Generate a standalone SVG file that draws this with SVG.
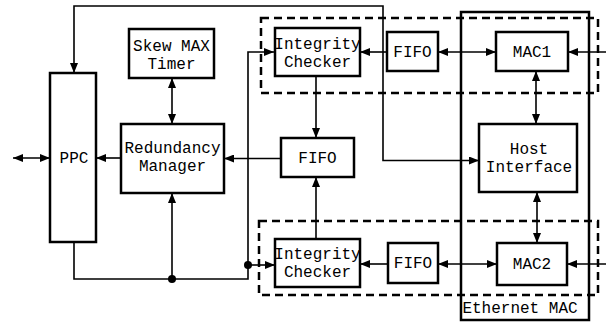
<svg xmlns="http://www.w3.org/2000/svg" width="606" height="323" viewBox="0 0 606 323">
<style>
.box{fill:#fff;stroke:#000;stroke-width:2.5}
.dash{fill:none;stroke:#000;stroke-width:2.5;stroke-dasharray:8 5}
.ln{fill:none;stroke:#000;stroke-width:1.6}
.t{font-family:"Liberation Mono",monospace;font-size:16px;fill:#000;text-anchor:middle}
</style>
<defs>
<marker id="a" viewBox="0 0 10 8" refX="10" refY="4" markerWidth="10" markerHeight="8" markerUnits="userSpaceOnUse" orient="auto-start-reverse">
<path d="M0,0 L10,4 L0,8 z" fill="#000"/>
</marker>
</defs>
<rect width="606" height="323" fill="#fff"/>
<g id="groups">
<rect id="ethernet-mac" x="461" y="12" width="128" height="308" fill="none" stroke="#000" stroke-width="2.5"/>
<rect x="261" y="18" width="337" height="75" class="dash"/>
<rect x="259" y="221" width="339" height="74" class="dash"/>
<text class="t" x="520" y="313">Ethernet MAC</text>
</g>
<g id="connectors">
<path class="ln" d="M74,73 V6 H383 V160.5 H479" marker-start="url(#a)" marker-end="url(#a)"/>
<path class="ln" d="M13,158 H50" marker-start="url(#a)" marker-end="url(#a)"/>
<path class="ln" d="M121,158 H96" marker-end="url(#a)"/>
<path class="ln" d="M281,158.5 H224" marker-end="url(#a)"/>
<path class="ln" d="M172,78 V124" marker-start="url(#a)" marker-end="url(#a)"/>
<path class="ln" d="M74,242 V279 H248 V52 H274" marker-end="url(#a)"/>
<path class="ln" d="M172,279 V193" marker-end="url(#a)"/>
<path class="ln" d="M248,265 H275" marker-end="url(#a)"/>
<circle cx="172" cy="279" r="4" fill="#000"/>
<circle cx="248" cy="265" r="4" fill="#000"/>
<path class="ln" d="M316,76 V138" marker-end="url(#a)"/>
<path class="ln" d="M316,239 V177" marker-end="url(#a)"/>
<path class="ln" d="M387,52 H360" marker-end="url(#a)"/>
<path class="ln" d="M438,52 H496" marker-start="url(#a)" marker-end="url(#a)"/>
<path class="ln" d="M606,52 H568" marker-end="url(#a)"/>
<path class="ln" d="M536,71 V124" marker-start="url(#a)" marker-end="url(#a)"/>
<path class="ln" d="M537,192 V243" marker-start="url(#a)" marker-end="url(#a)"/>
<path class="ln" d="M388,264 H360" marker-end="url(#a)"/>
<path class="ln" d="M438,264 H497" marker-start="url(#a)" marker-end="url(#a)"/>
<path class="ln" d="M606,264 H567" marker-end="url(#a)"/>
</g>
<g id="ppc">
<rect class="box" x="50" y="73" width="46" height="169"/>
<text class="t" x="74" y="163">PPC</text>
</g>
<g id="skew-max-timer">
<rect class="box" x="129" y="29" width="85" height="49"/>
<text class="t" x="171.5" y="51">Skew MAX</text>
<text class="t" x="171.5" y="69">Timer</text>
</g>
<g id="redundancy-manager">
<rect class="box" x="121" y="124" width="103" height="69"/>
<text class="t" x="172.5" y="153">Redundancy</text>
<text class="t" x="172.5" y="171">Manager</text>
</g>
<g id="fifo-mid">
<rect class="box" x="281" y="138" width="73" height="39"/>
<text class="t" x="317.5" y="163">FIFO</text>
</g>
<g id="integrity-checker-top">
<rect class="box" x="275" y="28" width="85" height="48"/>
<text class="t" x="317.5" y="49">Integrity</text>
<text class="t" x="317.5" y="67">Checker</text>
</g>
<g id="fifo-top">
<rect class="box" x="387" y="32" width="51" height="39"/>
<text class="t" x="412.5" y="57">FIFO</text>
</g>
<g id="mac1">
<rect class="box" x="496" y="32" width="72" height="39"/>
<text class="t" x="532" y="57">MAC1</text>
</g>
<g id="host-interface">
<rect class="box" x="479" y="124" width="98" height="68"/>
<text class="t" x="529" y="154">Host</text>
<text class="t" x="529" y="172">Interface</text>
</g>
<g id="integrity-checker-bottom">
<rect class="box" x="275" y="239" width="85" height="48"/>
<text class="t" x="317.5" y="259">Integrity</text>
<text class="t" x="317.5" y="277">Checker</text>
</g>
<g id="fifo-bottom">
<rect class="box" x="388" y="243" width="50" height="40"/>
<text class="t" x="413" y="268">FIFO</text>
</g>
<g id="mac2">
<rect class="box" x="497" y="243" width="70" height="42"/>
<text class="t" x="532" y="269">MAC2</text>
</g>
</svg>
